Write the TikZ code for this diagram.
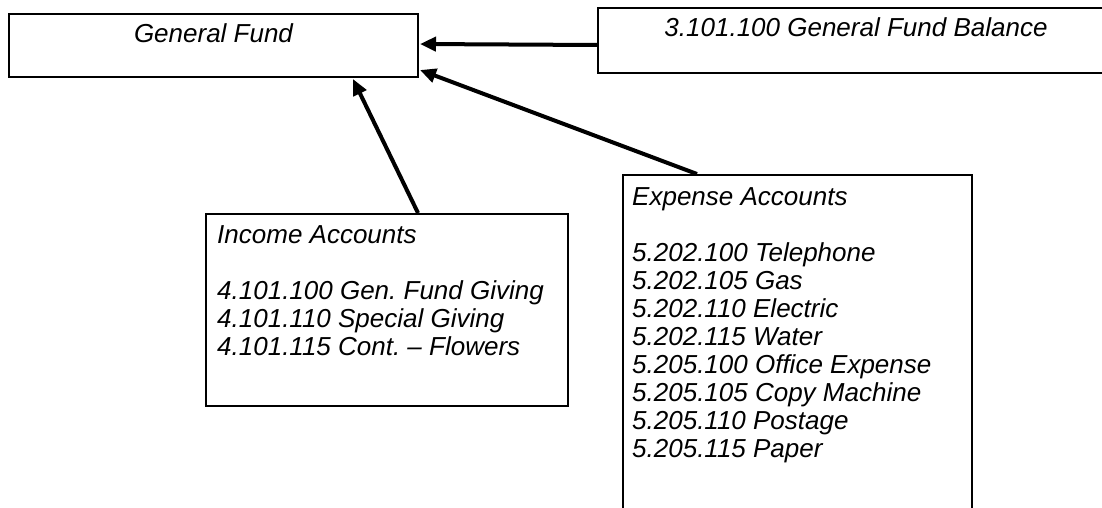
\documentclass[tikz,border=0pt]{standalone}
\usepackage{fontspec}
\setmainfont{Liberation Sans}
\usetikzlibrary{arrows.meta,calc}
\frenchspacing
\begin{document}
\begin{tikzpicture}[x=1pt,y=-1pt,
  box/.style={draw,line width=2pt,rectangle,inner sep=0pt,anchor=north west},
  lbl/.style={anchor=base west,inner sep=0pt,font=\fontsize{26}{28}\selectfont\itshape\frenchspacing},
  link/.style={line width=4pt,-{Triangle[length=16pt,width=14pt]}}]
\useasboundingbox (0,0) rectangle (1102,508);
\clip (0,0) rectangle (1102,508);
\fill[white] (0,0) rectangle (1102,508);
\node[box,minimum width=409pt,minimum height=63pt] (gf) at (8,13) {};
\node[box,minimum width=516pt,minimum height=65pt] (gfb) at (597,7) {};
\node[box,minimum width=362pt,minimum height=192pt] (inc) at (205,213) {};
\node[box,minimum width=349pt,minimum height=360pt] (exp) at (622,174) {};
\node[lbl,anchor=base] (gft) at ($(gf.north)+(0,30)$) {General Fund};
\node[lbl,anchor=base] (gfbt) at ($(gfb.north)+(0,30)$) {3.101.100 General Fund Balance};
\node[lbl] (inct) at ($(inc.north west)+(12,30)$) {\begin{tabular}[t]{@{}l@{}}Income Accounts\\ \\ 4.101.100 Gen. Fund Giving\\ 4.101.110 Special Giving\\ 4.101.115 Cont. – Flowers\end{tabular}};
\node[lbl] (expt) at ($(exp.north west)+(10,31)$) {\begin{tabular}[t]{@{}l@{}}Expense Accounts\\ \\ 5.202.100 Telephone\\ 5.202.105 Gas\\ 5.202.110 Electric\\ 5.202.115 Water\\ 5.205.100 Office Expense\\ 5.205.105 Copy Machine\\ 5.205.110 Postage\\ 5.205.115 Paper\end{tabular}};
\coordinate (a1s) at ($(gfb.north west)+(0,38)$);
\coordinate (a1e) at ($(gf.north east)+(1,31)$);
\coordinate (a2s) at ($(exp.north west)+(75,0)$);
\coordinate (a2e) at ($(gf.north east)+(1,57)$);
\coordinate (a3s) at ($(inc.north west)+(213,0)$);
\coordinate (a3e) at ($(gf.south west)+(345,1)$);
\draw[link] (a1s) -- (a1e);
\draw[link] (a2s) -- (a2e);
\draw[link] (a3s) -- (a3e);
\end{tikzpicture}
\end{document}
